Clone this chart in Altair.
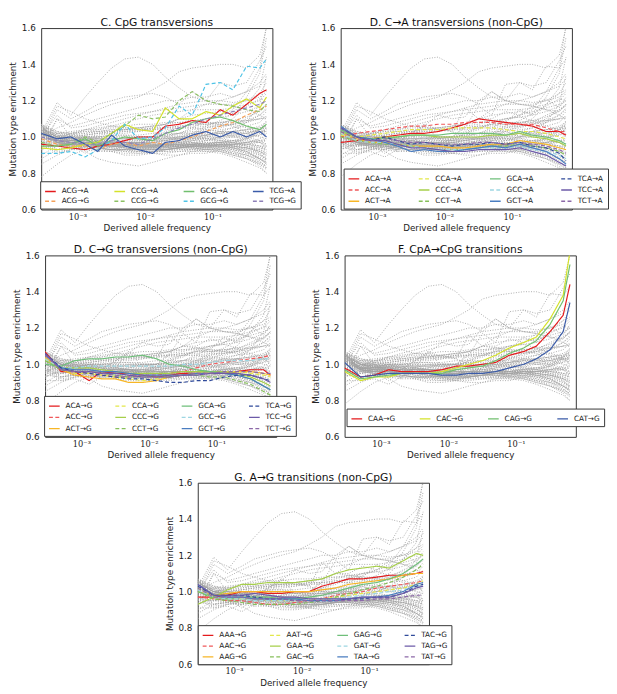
import altair as alt
import pandas as pd

FREQ = [0.00029, 0.0005, 0.0008, 0.0013, 0.002, 0.0032, 0.005, 0.008, 0.013,
        0.02, 0.032, 0.05, 0.08, 0.13, 0.2, 0.32, 0.5, 0.63]

# ---- C. CpG transversions (column-major legend order) ----
C_LABELS = ["ACG→A", "ACG→G", "CCG→A", "CCG→G", "GCG→A", "GCG→G", "TCG→A", "TCG→G"]
C_VALUES = [
    [0.96, 0.95, 0.94, 0.93, 0.95, 0.96, 0.98, 1.00, 1.00, 1.06, 1.07, 1.09, 1.08, 1.15, 1.12, 1.18, 1.24, 1.26],
    [0.99, 0.96, 0.95, 0.95, 0.93, 0.96, 0.97, 0.95, 0.97, 0.96, 0.98, 1.00, 1.03, 1.06, 1.08, 1.12, 1.15, 1.17],
    [0.94, 0.93, 0.94, 0.96, 0.97, 1.02, 1.07, 1.04, 1.03, 1.16, 1.10, 1.10, 1.14, 1.12, 1.17, 1.21, 1.16, 1.22],
    [0.97, 0.95, 0.96, 1.00, 0.97, 1.02, 1.06, 1.12, 1.10, 1.11, 1.20, 1.25, 1.20, 1.18, 1.17, 1.15, 1.14, 1.18],
    [0.95, 0.95, 0.96, 0.99, 0.95, 0.98, 1.00, 0.99, 0.98, 1.02, 1.04, 1.08, 1.10, 1.11, 1.09, 1.06, 1.04, 1.07],
    [0.91, 0.91, 0.92, 0.89, 0.93, 0.98, 1.07, 0.99, 1.00, 1.05, 1.17, 1.12, 1.29, 1.30, 1.26, 1.39, 1.38, 1.43],
    [1.02, 0.99, 1.00, 0.96, 0.92, 1.01, 0.95, 0.93, 0.91, 0.97, 0.98, 1.01, 1.03, 1.00, 1.03, 1.00, 1.03, 1.00],
    [1.00, 0.98, 0.97, 0.96, 0.96, 0.98, 0.97, 0.96, 0.99, 1.02, 1.05, 1.07, 1.10, 1.12, 1.14, 1.16, 1.18, 1.20],
]
C_COLORS = ["#e41a1c", "#f4a15a", "#d4e22a", "#8cc063", "#71bf6e", "#4fc3e6", "#3a5ba8", "#8e80b8"]
C_DASHED = [0, 1, 0, 1, 0, 1, 0, 1]

# ---- D. C->A transversions (non-CpG) ----
DA_LABELS = ["ACA→A", "ACC→A", "ACT→A", "CCA→A", "CCC→A", "CCT→A",
             "GCA→A", "GCC→A", "GCT→A", "TCA→A", "TCC→A", "TCT→A"]
DA_VALUES = [
    [0.97, 0.98, 0.99, 1.00, 1.01, 1.02, 1.02, 1.03, 1.05, 1.07, 1.10, 1.09, 1.08, 1.07, 1.06, 1.03, 1.03, 1.01],
    [1.00, 1.02, 1.03, 1.04, 1.05, 1.06, 1.06, 1.07, 1.07, 1.08, 1.08, 1.08, 1.07, 1.07, 1.07, 1.05, 1.03, 1.03],
    [1.02, 0.99, 0.97, 0.97, 0.96, 0.95, 0.95, 0.95, 0.94, 0.94, 0.95, 0.96, 0.96, 0.98, 0.97, 0.96, 0.94, 0.93],
    [1.01, 1.00, 1.01, 1.02, 1.03, 1.04, 1.04, 1.04, 1.05, 1.05, 1.05, 1.05, 1.04, 1.03, 1.03, 1.02, 1.00, 0.99],
    [1.03, 1.00, 0.99, 1.00, 1.00, 1.01, 1.01, 1.00, 1.00, 1.00, 1.00, 1.01, 1.01, 1.02, 1.00, 0.99, 0.97, 0.95],
    [1.00, 0.98, 0.97, 0.96, 0.96, 0.95, 0.94, 0.93, 0.93, 0.93, 0.94, 0.95, 0.95, 0.96, 0.95, 0.94, 0.92, 0.90],
    [1.04, 1.00, 0.99, 0.99, 1.00, 1.01, 1.01, 1.01, 1.02, 1.02, 1.02, 1.02, 1.01, 1.03, 1.01, 1.00, 0.98, 0.96],
    [1.02, 0.98, 0.97, 0.97, 0.96, 0.95, 0.94, 0.93, 0.93, 0.93, 0.94, 0.94, 0.94, 0.95, 0.93, 0.92, 0.90, 0.88],
    [1.06, 1.00, 0.99, 0.97, 0.95, 0.92, 0.93, 0.92, 0.92, 0.93, 0.94, 0.95, 0.94, 0.96, 0.94, 0.92, 0.88, 0.85],
    [1.05, 1.00, 0.98, 1.00, 0.98, 0.96, 0.97, 0.96, 0.95, 0.96, 0.96, 0.97, 0.96, 0.97, 0.95, 0.94, 0.91, 0.87],
    [1.05, 1.00, 0.98, 0.98, 0.96, 0.94, 0.94, 0.93, 0.92, 0.92, 0.93, 0.93, 0.93, 0.94, 0.92, 0.90, 0.86, 0.84],
    [1.03, 0.99, 0.98, 0.99, 0.98, 0.97, 0.97, 0.96, 0.96, 0.96, 0.97, 0.97, 0.96, 0.97, 0.96, 0.95, 0.93, 0.91],
]

# ---- D. C->G transversions (non-CpG) ----
DG_LABELS = ["ACA→G", "ACC→G", "ACT→G", "CCA→G", "CCC→G", "CCT→G",
             "GCA→G", "GCC→G", "GCT→G", "TCA→G", "TCC→G", "TCT→G"]
DG_VALUES = [
    [1.07, 0.96, 0.96, 0.91, 0.96, 0.95, 0.95, 0.94, 0.93, 0.94, 0.95, 0.95, 0.95, 0.95, 0.96, 0.97, 0.97, 0.94],
    [1.06, 0.97, 0.96, 0.95, 0.94, 0.93, 0.93, 0.94, 0.94, 0.95, 0.96, 0.98, 1.00, 1.01, 1.02, 1.03, 1.04, 1.05],
    [1.04, 0.97, 0.94, 0.93, 0.92, 0.92, 0.90, 0.90, 0.91, 0.93, 0.94, 0.95, 0.95, 0.96, 0.96, 0.96, 0.95, 0.94],
    [1.03, 0.97, 0.95, 0.95, 0.94, 0.93, 0.92, 0.91, 0.92, 0.93, 0.94, 0.95, 0.96, 0.96, 0.96, 0.95, 0.94, 0.93],
    [1.02, 0.98, 0.98, 0.98, 0.97, 0.96, 0.95, 0.95, 0.95, 0.95, 0.96, 0.96, 0.96, 0.96, 0.95, 0.93, 0.90, 0.88],
    [1.02, 0.97, 0.96, 0.96, 0.95, 0.94, 0.93, 0.93, 0.93, 0.93, 0.94, 0.94, 0.93, 0.93, 0.91, 0.89, 0.85, 0.83],
    [1.00, 0.99, 1.02, 1.03, 1.03, 1.04, 1.04, 1.05, 1.03, 1.00, 0.99, 0.97, 0.96, 0.95, 0.94, 0.92, 0.88, 0.86],
    [1.03, 0.98, 0.98, 0.99, 0.99, 0.99, 0.99, 0.99, 0.99, 0.99, 1.00, 1.00, 1.01, 1.02, 1.02, 1.02, 1.03, 1.03],
    [1.05, 0.98, 0.97, 0.97, 0.96, 0.96, 0.95, 0.94, 0.94, 0.94, 0.94, 0.95, 0.95, 0.95, 0.94, 0.92, 0.88, 0.86],
    [1.06, 0.98, 0.96, 0.95, 0.94, 0.93, 0.92, 0.92, 0.91, 0.90, 0.90, 0.91, 0.91, 0.93, 0.94, 0.94, 0.92, 0.91],
    [1.06, 0.97, 0.96, 0.96, 0.95, 0.95, 0.94, 0.93, 0.93, 0.93, 0.94, 0.94, 0.95, 0.95, 0.95, 0.94, 0.92, 0.90],
    [1.05, 0.97, 0.96, 0.96, 0.95, 0.94, 0.93, 0.93, 0.93, 0.93, 0.94, 0.95, 0.95, 0.96, 0.96, 0.96, 0.95, 0.95],
]

# ---- F. CpA->CpG transitions ----
F_LABELS = ["CAA→G", "CAC→G", "CAG→G", "CAT→G"]
F_VALUES = [
    [0.98, 0.93, 0.94, 0.97, 0.96, 0.96, 0.96, 0.97, 0.99, 0.99, 1.00, 1.01, 1.05, 1.07, 1.10, 1.18, 1.27, 1.44],
    [0.96, 0.91, 0.93, 0.93, 0.95, 0.95, 0.95, 0.96, 0.98, 1.00, 1.02, 1.05, 1.09, 1.12, 1.15, 1.25, 1.38, 1.62],
    [0.97, 0.92, 0.93, 0.94, 0.95, 0.95, 0.95, 0.95, 0.97, 0.98, 0.99, 1.02, 1.06, 1.09, 1.13, 1.22, 1.35, 1.55],
    [1.01, 0.93, 0.94, 0.95, 0.95, 0.95, 0.95, 0.94, 0.94, 0.95, 0.95, 0.96, 0.98, 1.00, 1.03, 1.08, 1.18, 1.34],
]
F_COLORS = ["#e41a1c", "#d4e22a", "#71bf6e", "#3a5ba8"]
F_DASHED = [0, 0, 0, 0]

# ---- G. A->G transitions (non-CpG) ----
G_LABELS = ["AAA→G", "AAC→G", "AAG→G", "AAT→G", "GAA→G", "GAC→G",
            "GAG→G", "GAT→G", "TAA→G", "TAC→G", "TAG→G", "TAT→G"]
G_VALUES = [
    [0.97, 0.97, 0.98, 1.00, 1.00, 0.99, 0.99, 1.00, 1.00, 1.03, 1.05, 1.07, 1.07, 1.08, 1.09, 1.09, 1.10, 1.11],
    [0.97, 0.96, 0.95, 0.95, 0.94, 0.93, 0.93, 0.94, 0.95, 0.96, 0.98, 0.99, 1.00, 1.02, 1.03, 1.04, 1.05, 1.06],
    [1.00, 0.98, 0.99, 1.00, 1.00, 1.00, 1.00, 1.00, 1.00, 1.01, 1.02, 1.04, 1.05, 1.06, 1.07, 1.09, 1.10, 1.10],
    [1.02, 0.97, 0.96, 0.96, 0.96, 0.95, 0.95, 0.95, 0.95, 0.96, 0.97, 0.98, 0.99, 1.00, 1.01, 1.02, 1.04, 1.06],
    [0.93, 0.97, 1.01, 1.04, 1.04, 1.05, 1.05, 1.05, 1.06, 1.07, 1.10, 1.12, 1.13, 1.14, 1.13, 1.17, 1.21, 1.20],
    [1.00, 0.96, 0.95, 0.94, 0.93, 0.93, 0.93, 0.93, 0.94, 0.95, 0.97, 0.99, 1.01, 1.03, 1.05, 1.08, 1.12, 1.15],
    [1.00, 0.97, 0.96, 0.97, 0.97, 0.97, 0.96, 0.96, 0.97, 0.98, 1.00, 1.02, 1.04, 1.05, 1.07, 1.10, 1.15, 1.18],
    [1.01, 0.97, 0.96, 0.96, 0.95, 0.95, 0.95, 0.95, 0.95, 0.96, 0.96, 0.97, 0.98, 0.99, 1.00, 1.01, 1.03, 1.04],
    [1.04, 0.98, 0.97, 0.97, 0.96, 0.96, 0.96, 0.96, 0.95, 0.95, 0.95, 0.96, 0.97, 0.97, 0.98, 1.00, 1.04, 1.05],
    [1.03, 0.98, 0.98, 0.98, 0.97, 0.96, 0.96, 0.95, 0.95, 0.95, 0.95, 0.96, 0.96, 0.97, 0.97, 0.99, 1.03, 1.04],
    [1.04, 0.98, 0.98, 0.98, 0.99, 0.98, 0.97, 0.97, 0.96, 0.96, 0.96, 0.96, 0.97, 0.97, 0.97, 0.99, 1.02, 1.03],
    [1.02, 0.97, 0.97, 0.97, 0.96, 0.96, 0.96, 0.95, 0.95, 0.95, 0.95, 0.95, 0.95, 0.96, 0.96, 0.97, 0.98, 0.98],
]

TWELVE_COLORS = ["#e41a1c", "#f0585a", "#f7b626", "#e3e84a", "#a6cf4a", "#86bf5a",
                 "#6fbf7a", "#9dd6e2", "#4a7dc0", "#2f4a9a", "#6c5aa8", "#8c68a8"]
TWELVE_DASHED = [0, 1, 0, 1, 0, 1, 0, 1, 0, 1, 0, 1]

# ---- other mutation types (only drawn as grey background) ----
OTHER_VALUES = [
    [1.02, 1.19, 1.12, 1.22, 1.30, 1.38, 1.43, 1.44, 1.40, 1.33, 1.27, 1.22, 1.20, 1.18, 1.17, 1.15, 1.12, 1.10],
    [1.00, 1.05, 1.08, 1.12, 1.15, 1.18, 1.20, 1.22, 1.26, 1.30, 1.36, 1.38, 1.39, 1.40, 1.40, 1.38, 1.45, 1.60],
    [0.98, 1.15, 1.10, 1.14, 1.18, 1.20, 1.22, 1.23, 1.24, 1.22, 1.18, 1.25, 1.20, 1.30, 1.28, 1.30, 1.42, 1.50],
    [0.95, 1.10, 1.06, 1.08, 1.10, 1.12, 1.14, 1.16, 1.18, 1.20, 1.20, 1.22, 1.22, 1.24, 1.22, 1.25, 1.30, 1.35],
    [1.00, 1.12, 1.05, 1.06, 1.08, 1.10, 1.12, 1.13, 1.14, 1.15, 1.16, 1.17, 1.18, 1.18, 1.18, 1.20, 1.22, 1.25],
    [0.78, 0.85, 0.90, 0.93, 0.95, 0.96, 0.96, 0.96, 0.96, 0.96, 0.96, 0.95, 0.94, 0.92, 0.90, 0.88, 0.84, 0.80],
    [0.85, 0.90, 0.93, 0.95, 0.96, 0.97, 0.97, 0.97, 0.98, 0.98, 0.97, 0.96, 0.95, 0.93, 0.91, 0.88, 0.85, 0.82],
    [1.06, 1.02, 1.00, 0.99, 0.98, 0.97, 0.97, 0.96, 0.96, 0.95, 0.95, 0.94, 0.93, 0.92, 0.90, 0.88, 0.86, 0.84],
    [1.05, 1.00, 0.99, 0.98, 0.98, 0.97, 0.97, 0.96, 0.96, 0.96, 0.95, 0.95, 0.94, 0.94, 0.93, 0.91, 0.89, 0.87],
    [1.04, 1.01, 1.00, 1.00, 1.00, 1.00, 1.00, 1.00, 1.00, 1.00, 1.00, 1.00, 0.99, 0.99, 0.98, 0.97, 0.95, 0.93],
    [1.03, 0.99, 0.98, 0.98, 0.97, 0.97, 0.97, 0.97, 0.97, 0.97, 0.97, 0.98, 0.98, 0.98, 0.98, 0.98, 0.97, 0.96],
    [1.02, 0.98, 0.97, 0.96, 0.96, 0.96, 0.96, 0.96, 0.97, 0.98, 0.99, 1.00, 1.01, 1.02, 1.03, 1.04, 1.06, 1.08],
    [1.05, 1.00, 1.00, 1.01, 1.02, 1.03, 1.04, 1.05, 1.06, 1.07, 1.08, 1.09, 1.10, 1.11, 1.12, 1.14, 1.17, 1.20],
    [1.00, 0.97, 0.96, 0.96, 0.95, 0.95, 0.94, 0.94, 0.94, 0.93, 0.93, 0.93, 0.92, 0.91, 0.89, 0.86, 0.83, 0.80],
    [1.07, 1.02, 1.01, 1.01, 1.02, 1.03, 1.03, 1.04, 1.04, 1.05, 1.06, 1.06, 1.07, 1.08, 1.08, 1.09, 1.12, 1.16],
    [0.90, 0.95, 0.97, 0.98, 0.98, 0.98, 0.98, 0.98, 0.98, 0.99, 0.99, 0.99, 0.99, 1.00, 1.00, 1.00, 1.01, 1.02],
    [1.03, 0.98, 0.96, 0.95, 0.94, 0.93, 0.93, 0.92, 0.92, 0.92, 0.92, 0.92, 0.92, 0.92, 0.91, 0.90, 0.88, 0.86],
    [1.06, 1.03, 1.02, 1.03, 1.04, 1.06, 1.08, 1.10, 1.12, 1.13, 1.14, 1.15, 1.15, 1.15, 1.16, 1.18, 1.20, 1.24],
    [0.95, 1.00, 1.02, 1.04, 1.06, 1.08, 1.10, 1.12, 1.14, 1.16, 1.18, 1.19, 1.20, 1.20, 1.19, 1.20, 1.24, 1.30],
    [1.04, 1.00, 0.98, 0.97, 0.96, 0.95, 0.95, 0.94, 0.94, 0.94, 0.95, 0.95, 0.96, 0.96, 0.97, 0.97, 0.98, 0.99],
    [1.02, 0.97, 0.95, 0.94, 0.93, 0.92, 0.91, 0.91, 0.91, 0.91, 0.92, 0.93, 0.94, 0.95, 0.96, 0.97, 0.99, 1.01],
    [1.05, 1.00, 0.98, 0.97, 0.97, 0.97, 0.98, 0.99, 1.00, 1.01, 1.02, 1.03, 1.03, 1.04, 1.05, 1.06, 1.08, 1.12],
    [0.92, 1.10, 1.00, 0.92, 0.88, 0.86, 0.85, 0.84, 0.86, 0.88, 0.90, 0.92, 0.93, 0.94, 0.95, 0.96, 0.97, 0.98],
    [1.00, 1.17, 1.14, 1.10, 1.08, 1.06, 1.05, 1.05, 1.06, 1.07, 1.10, 1.15, 1.18, 1.20, 1.22, 1.25, 1.28, 1.32],
    [1.06, 1.01, 0.99, 0.98, 0.97, 0.96, 0.96, 0.95, 0.95, 0.95, 0.95, 0.95, 0.95, 0.94, 0.93, 0.91, 0.88, 0.85],
    [1.03, 1.00, 0.99, 0.99, 0.99, 0.99, 0.99, 1.00, 1.00, 1.01, 1.01, 1.02, 1.02, 1.03, 1.03, 1.04, 1.05, 1.07],
    [1.01, 0.98, 0.97, 0.97, 0.97, 0.97, 0.97, 0.98, 0.98, 0.98, 0.99, 0.99, 0.99, 0.98, 0.97, 0.95, 0.92, 0.89],
    [0.98, 0.99, 1.00, 1.01, 1.02, 1.02, 1.03, 1.03, 1.04, 1.04, 1.05, 1.05, 1.06, 1.06, 1.07, 1.08, 1.10, 1.14],
    [1.07, 1.03, 1.01, 1.00, 0.99, 0.98, 0.97, 0.97, 0.96, 0.96, 0.96, 0.96, 0.96, 0.95, 0.95, 0.94, 0.93, 0.92],
    [0.93, 0.96, 0.97, 0.97, 0.97, 0.96, 0.96, 0.95, 0.95, 0.94, 0.94, 0.94, 0.93, 0.93, 0.92, 0.90, 0.87, 0.83],
    [1.05, 1.01, 1.00, 0.99, 0.99, 0.99, 0.99, 0.99, 0.99, 0.99, 0.99, 1.00, 1.00, 1.00, 1.01, 1.02, 1.04, 1.09],
    [1.00, 0.98, 0.98, 0.98, 0.98, 0.98, 0.97, 0.97, 0.97, 0.96, 0.96, 0.96, 0.95, 0.95, 0.94, 0.93, 0.91, 0.88],
    [1.04, 1.02, 1.02, 1.02, 1.03, 1.03, 1.04, 1.04, 1.05, 1.05, 1.06, 1.07, 1.08, 1.08, 1.09, 1.11, 1.14, 1.18],
    [0.88, 0.93, 0.95, 0.96, 0.96, 0.96, 0.95, 0.95, 0.95, 0.95, 0.95, 0.96, 0.96, 0.97, 0.98, 0.99, 1.01, 1.05],
]
OTHER_LABELS = ["other%02d" % (i + 1) for i in range(len(OTHER_VALUES))]

ALL_GROUPS = [
    (C_LABELS, C_VALUES), (DA_LABELS, DA_VALUES), (DG_LABELS, DG_VALUES),
    (F_LABELS, F_VALUES), (G_LABELS, G_VALUES), (OTHER_LABELS, OTHER_VALUES),
]


def long_table(labels, values):
    rows = []
    for lab, vals in zip(labels, values):
        for f, v in zip(FREQ, vals):
            rows.append({"type": lab, "f": f, "v": v})
    return pd.DataFrame(rows)


FONT = "DejaVu Sans"
X_AXIS = alt.Axis(values=[0.001, 0.01, 0.1], title="Derived allele frequency",
                  labelExpr="datum.value < 0.005 ? '10⁻³' : (datum.value < 0.05 ? '10⁻²' : '10⁻¹')",
                  labelFont="DejaVu Serif", labelFontSize=8.5, grid=False, domain=False,
                  ticks=False, labelPadding=3, titlePadding=3)
Y_AXIS = alt.Axis(values=[0.6, 0.8, 1.0, 1.2, 1.4, 1.6], format=".1f", title="Mutation type enrichment",
                  grid=False, domain=False, ticks=False, labelPadding=6, titlePadding=4)
X_ENC = alt.X("f:Q", scale=alt.Scale(type="log", domain=[0.00029, 0.77], nice=False), axis=X_AXIS)
Y_ENC = alt.Y("v:Q", scale=alt.Scale(domain=[0.6, 1.6], nice=False), axis=Y_AXIS)


def panel(title, labels, values, colors, dashed, legend_x, legend_y, col_pad, row_pad):
    others_l, others_v = [], []
    for gl, gv in ALL_GROUPS:
        if gl is labels:
            continue
        others_l += gl
        others_v += gv
    bg = alt.Chart(long_table(others_l, others_v)).mark_line(
        clip=True, color="#a2a2a2", strokeDash=[1, 1.6], strokeWidth=0.9
    ).encode(x=X_ENC, y=Y_ENC, detail="type:N")

    dash_r = [[4, 2.5] if d else [1, 0] for d in dashed]
    leg = alt.Legend(orient="none", legendX=legend_x, legendY=legend_y, columns=4, title=None,
                     direction="vertical",
                     symbolType="stroke", symbolSize=120, symbolStrokeWidth=1.4,
                     labelFont=FONT, labelFontSize=7.5, labelColor="#222", labelOffset=5,
                     columnPadding=col_pad, rowPadding=row_pad, padding=4,
                     strokeColor="#333", fillColor="white")
    fg = alt.Chart(long_table(labels, values)).mark_line(clip=True, strokeWidth=1.2).encode(
        x=X_ENC, y=Y_ENC,
        color=alt.Color("type:N", scale=alt.Scale(domain=labels, range=colors), legend=leg),
        strokeDash=alt.StrokeDash("type:N", scale=alt.Scale(domain=labels, range=dash_r), legend=leg),
        order=alt.Order("f:Q"),
    )
    return alt.layer(bg, fg).properties(
        width=237, height=186,
        title=alt.TitleParams(title, fontSize=11, font=FONT, fontWeight="normal", offset=1, dy=5,
                              color="#111"),
    )


pC = panel("C. CpG transversions", C_LABELS, C_VALUES, C_COLORS, C_DASHED, -1, 157, 22, 0)
pDA = panel("D. C→A transversions (non-CpG)", DA_LABELS, DA_VALUES, TWELVE_COLORS, TWELVE_DASHED, 3, 144, 25, 1.5)
pDG = panel("D. C→G transversions (non-CpG)", DG_LABELS, DG_VALUES, TWELVE_COLORS, TWELVE_DASHED, -1, 144, 20, 1.5)
pF = panel("F. CpA→CpG transitions", F_LABELS, F_VALUES, F_COLORS, F_DASHED, 2, 157, 22, 0)
pG = panel("G. A→G transitions (non-CpG)", G_LABELS, G_VALUES, TWELVE_COLORS, TWELVE_DASHED, 0, 146, 20, 1)

row1 = alt.hconcat(pC, pDA, spacing=70, bounds="flush").resolve_scale(
    color="independent", strokeDash="independent")
row2 = alt.hconcat(pDG, pF, spacing=70, bounds="flush").resolve_scale(
    color="independent", strokeDash="independent")

chart = alt.vconcat(row1, row2, pG, spacing=11, center=True,
                    padding={"left": 0, "top": 0, "right": 0, "bottom": 0}).resolve_scale(
    color="independent", strokeDash="independent"
).configure_view(
    stroke="#333", strokeWidth=1
).configure_axis(
    labelFont=FONT, titleFont=FONT, labelFontSize=9, titleFontSize=9,
    labelColor="#222", titleColor="#222", titleFontWeight="normal"
)

chart.save("out.html", embed_options={"renderer": "svg", "actions": False})
